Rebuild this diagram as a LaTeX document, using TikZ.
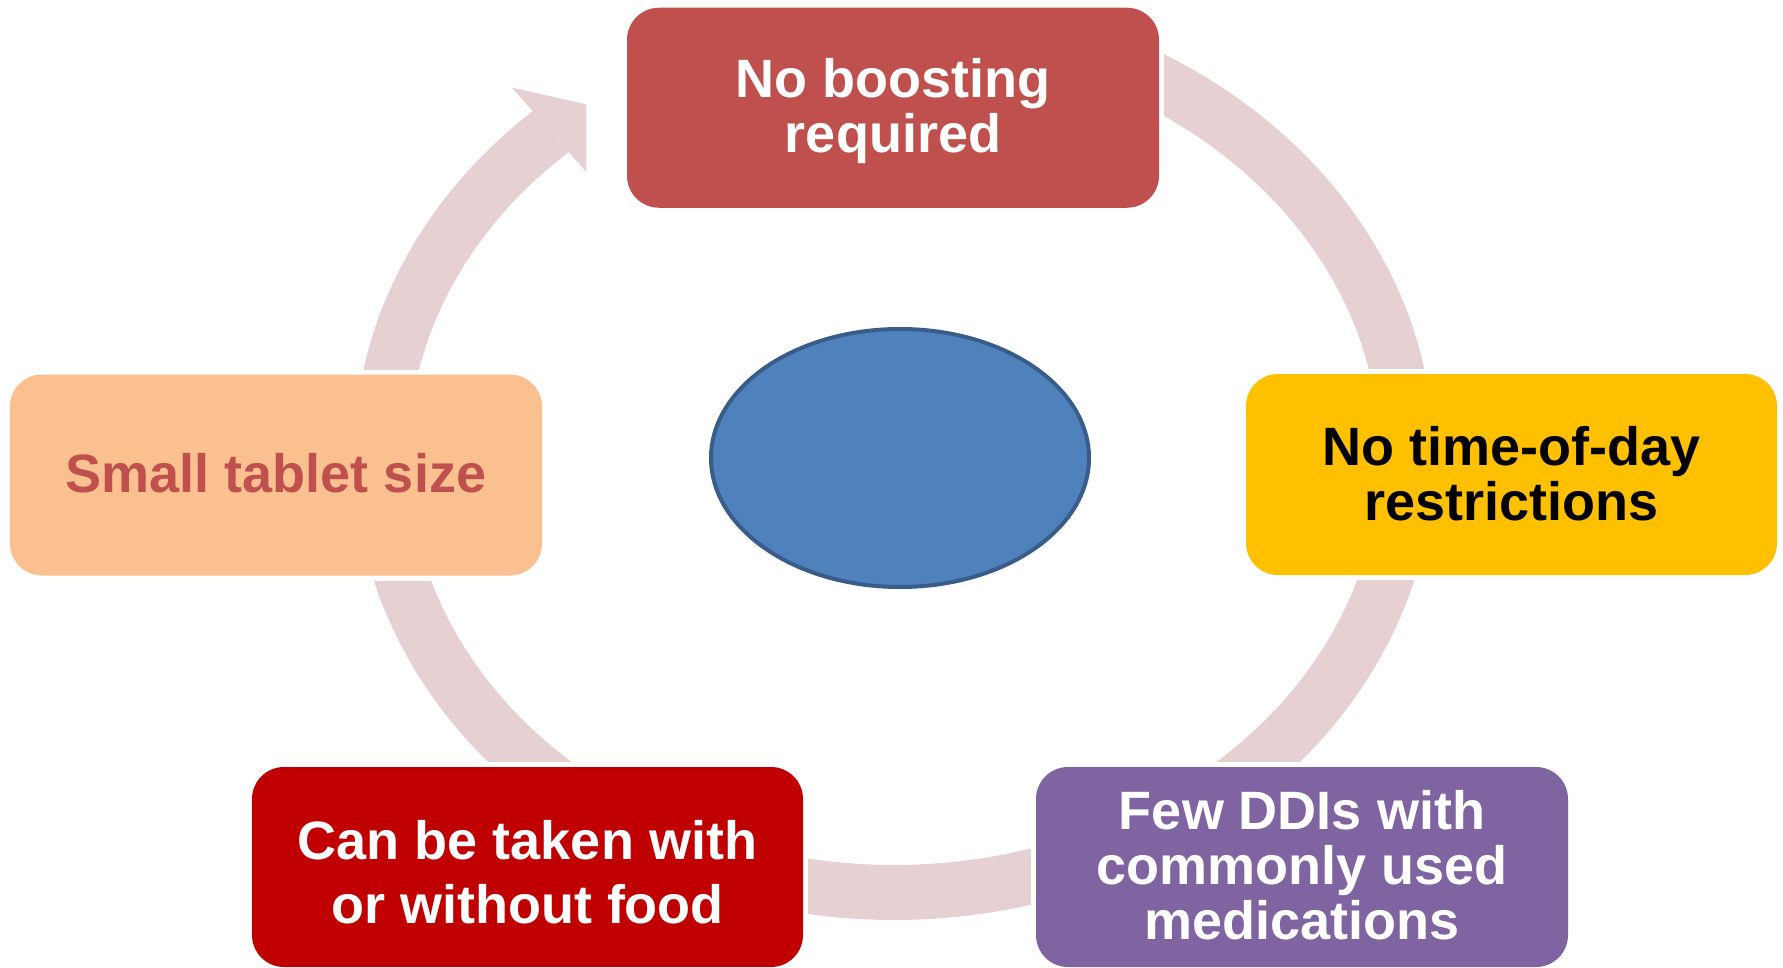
\documentclass[tikz,border=0pt]{standalone}
\usepackage{fontspec}
\setmainfont{Liberation Sans}
\usetikzlibrary{shapes.geometric,calc}
\definecolor{ringc}{HTML}{E7D0D2}
\definecolor{topc}{HTML}{C0504D}
\definecolor{rightc}{HTML}{FFC000}
\definecolor{brc}{HTML}{8064A2}
\definecolor{blc}{HTML}{C00000}
\definecolor{leftc}{HTML}{FAC090}
\definecolor{smallc}{HTML}{C0504D}
\definecolor{hubc}{HTML}{4F81BD}
\definecolor{hubborder}{HTML}{385D8A}
\begin{document}
\begin{tikzpicture}[x=1bp,y=-1bp,
  box/.style={rectangle, rounded corners=32bp, inner sep=0bp, outer sep=0bp},
  lbl/.style={inner sep=0bp, align=center, font=\fontsize{54bp}{55bp}\selectfont\bfseries},
  gap/.style={fill=white}]
\fill[white] (0,0) rectangle (1783,967);
\useasboundingbox (0,0) rectangle (1783,967);
\begin{scope}
\clip (0,0) rectangle (1783,967);

% ring
\fill[ringc] plot[domain=-70:228, samples=150] ({894+540*cos(\x)},{456+464*sin(\x)})
  -- plot[domain=228:-70, samples=150] ({894+486*cos(\x)},{456+409*sin(\x)}) -- cycle;
% arrow head
\coordinate (ao) at ({894+540*cos(228)},{456+464*sin(228)});
\coordinate (ai) at ({894+486*cos(228)},{456+409*sin(228)});
\fill[ringc] (ao) -- (511.8,87.5) -- (586.3,104.3) -- (586.3,172) -- (ai) -- cycle;

% white gaps around the boxes
\fill[gap] (622,2.75) rectangle (1164,212.75);
\fill[gap] (1241,369) rectangle (1782,580);
\fill[gap] (1031,762) rectangle (1573,972);
\fill[gap] (247,762) rectangle (808,972);
\fill[gap] (5,369.5) rectangle (547,580.5);

% boxes
\node[box, fill=topc, minimum width=532bp, minimum height=200bp] (top) at (893,107.75) {};
\node[box, fill=rightc, minimum width=531bp, minimum height=201bp] (right) at (1511.5,474.5) {};
\node[box, fill=brc, minimum width=532bp, minimum height=200bp] (br) at (1302,867) {};
\node[box, fill=blc, minimum width=551bp, minimum height=200bp] (bl) at (527.5,867) {};
\node[box, fill=leftc, minimum width=532bp, minimum height=201bp] (left) at (276,475) {};
\node[ellipse, draw=hubborder, line width=4bp, fill=hubc, minimum width=378bp, minimum height=258bp, inner sep=0bp] (hub) at (900,458) {};

% texts
\node[lbl, text=white] (toptext) at ($(top.center)+(0,3)$) {No boosting\\required};
\node[lbl, text=black] (righttext) at ($(right.center)+(0,-1)$) {No time-of-day\\restrictions};
\node[lbl, text=white] (brtext) at ($(br.center)+(0,-2)$) {Few DDIs with\\commonly used\\medications};
\node[lbl, text=white, font=\fontsize{54bp}{64bp}\selectfont\bfseries] (bltext) at ($(bl.center)+(0,5)$) {Can be taken with\\or without food};
\node[lbl, text=smallc] (lefttext) at ($(left.center)+(0,-2)$) {Small tablet size};
\end{scope}
\end{tikzpicture}
\end{document}
